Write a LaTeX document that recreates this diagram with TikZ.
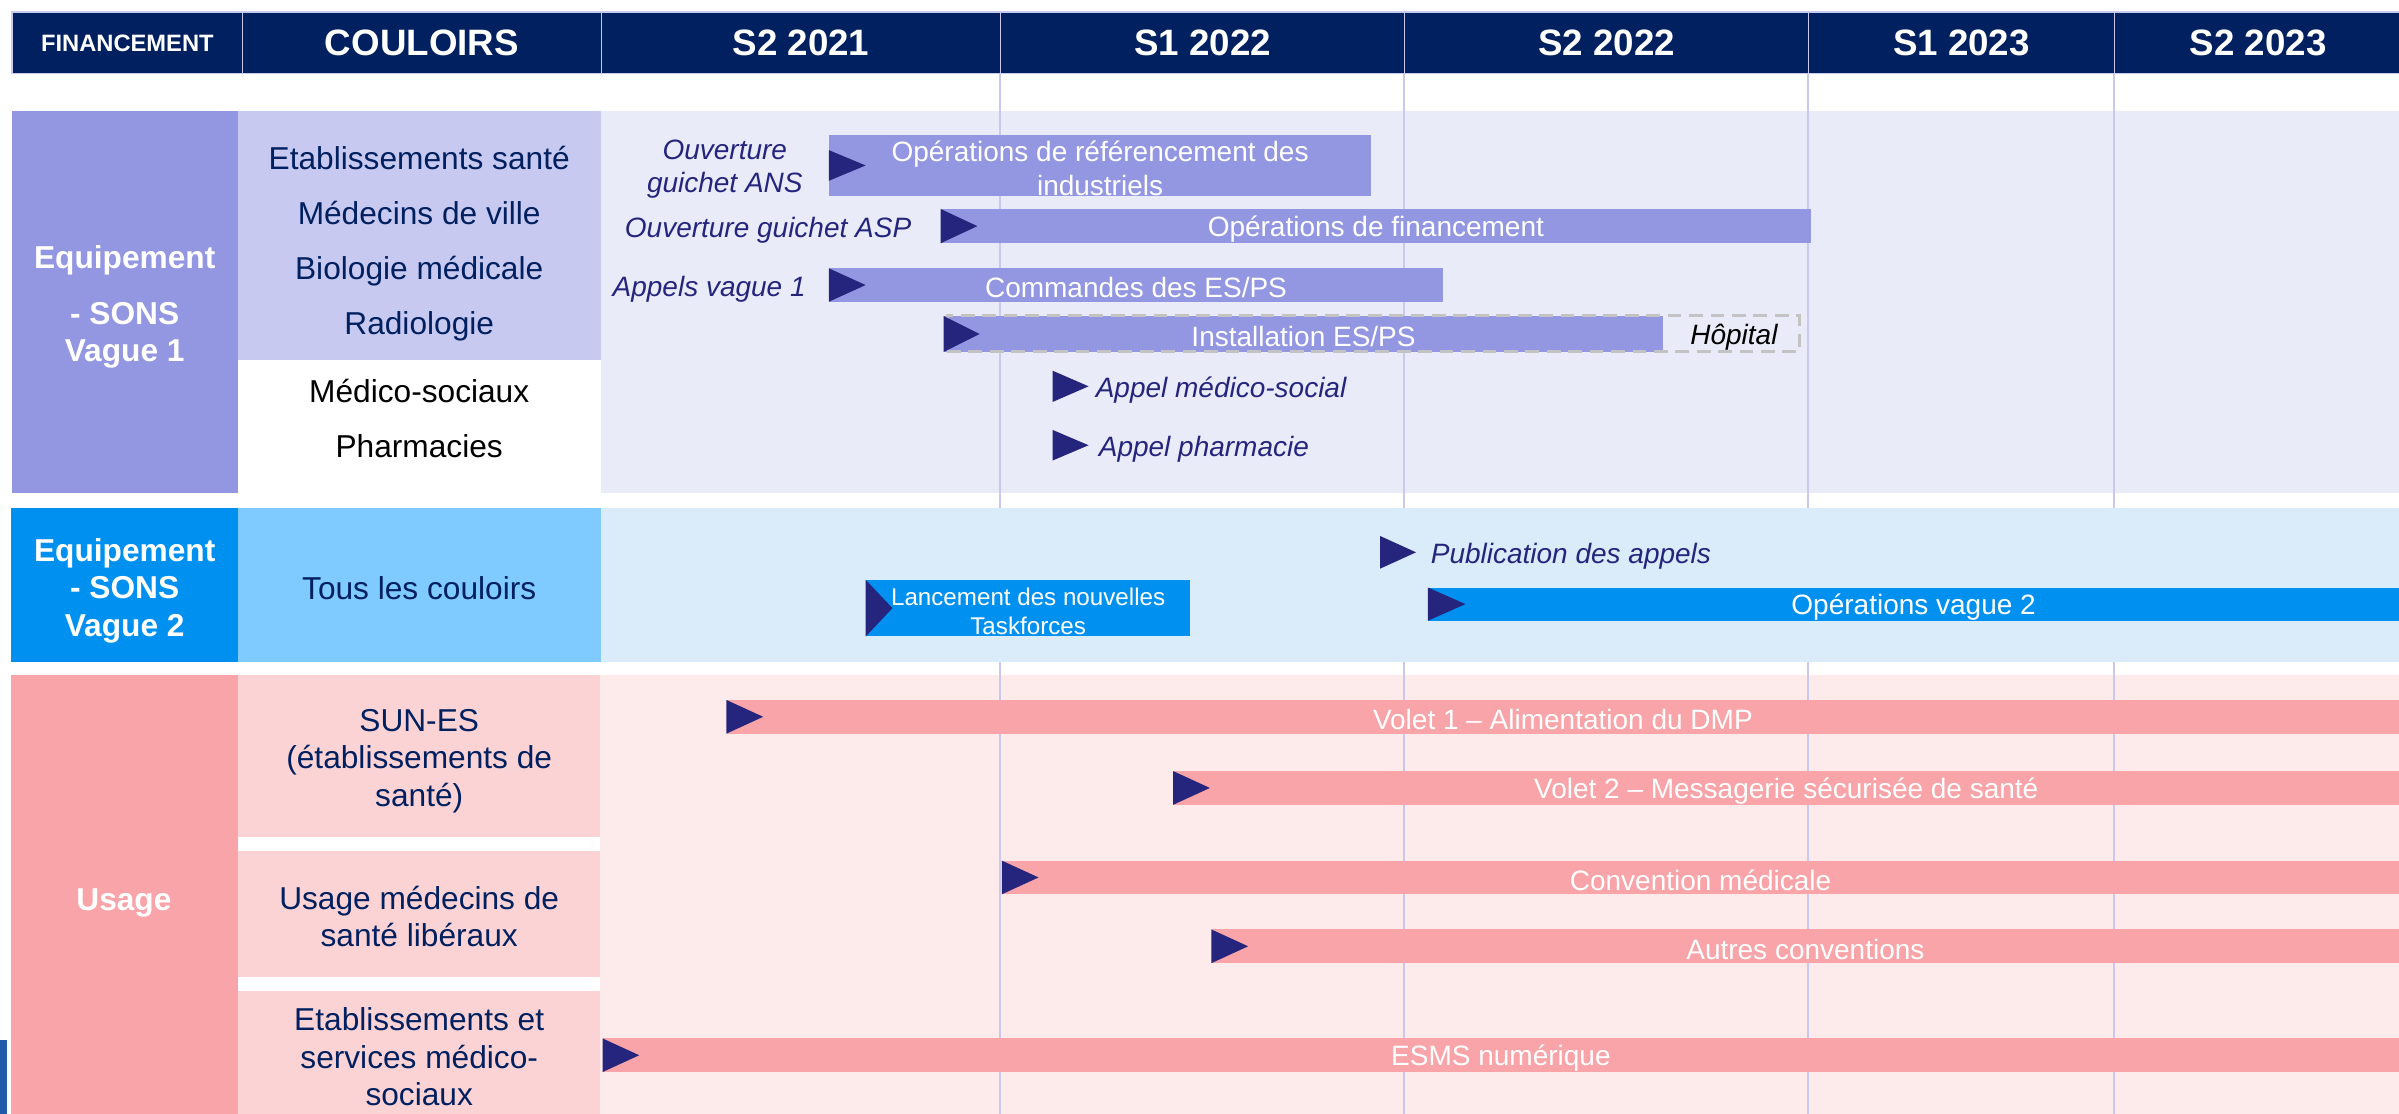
\documentclass[tikz,border=0pt]{standalone}
\usepackage{fontspec}
\setmainfont{Liberation Sans}
\usetikzlibrary{positioning,fit}

\definecolor{navy}{HTML}{002060}
\definecolor{flagblue}{HTML}{25257D}
\definecolor{gridc}{HTML}{C9C9F0}
\definecolor{dashgray}{HTML}{C3C3C3}
\definecolor{edgeblue}{HTML}{1F5AA8}
\definecolor{vaLeft}{HTML}{9396E0}
\definecolor{vaCou}{HTML}{C8C9F0}
\definecolor{vaBg}{HTML}{EAEBF8}
\definecolor{vbLeft}{HTML}{0091F0}
\definecolor{vbCou}{HTML}{7FCAFE}
\definecolor{vbBg}{HTML}{DAEBFA}
\definecolor{usLeft}{HTML}{F8A4A8}
\definecolor{usCou}{HTML}{FBD3D5}
\definecolor{usBg}{HTML}{FDEBEB}

\newcommand{\myBox}[3]{
\node[fit={#2}, inner sep=0pt, #3] (#1) {};
}
\newcommand{\myText}[3]{
\node[#2] (#1-t) at (#1) {#3};
}
\newcommand{\myFlag}[3]{
% triangle on the left end of a bar
\fill[flagblue] ([yshift=#3]#1.west) -- ([xshift=#2]#1.west) -- ([yshift=-#3]#1.west) -- cycle;
}
\newcommand{\myMilestone}[3]{
\coordinate (#1) at #2;
\fill[flagblue] (#1) ++(0,-#3) -- ++(23.5,#3) -- ++(-23.5,#3) -- cycle;
}

\begin{document}
\begin{tikzpicture}[x=1pt, y=-1pt,
	hdr/.style={fill=navy, draw=gridc, line width=1pt},
	hdrtxt/.style={text=white, font=\fontsize{24}{28}\selectfont\bfseries},
	lead/.style={text=white, align=center, font=\fontsize{20.7}{24.5}\selectfont\bfseries},
	cou/.style={text=navy, align=center, font=\fontsize{20.7}{36}\selectfont},
	couS/.style={text=navy, align=center, font=\fontsize{20.7}{24.5}\selectfont},
	bar/.style={text=white, align=center, yshift=-1.8pt, font=\fontsize{18.3}{22}\selectfont},
	lbl/.style={text=flagblue, align=center, inner sep=0pt, yshift=-2.5pt, font=\fontsize{18.3}{22}\selectfont\itshape},
	gridline/.style={draw=gridc, line width=1.3pt},
	hospbox/.style={draw=dashgray, line width=2pt, dash pattern=on 9pt off 5pt}]
	\clip (0,0) rectangle (1568,728);
	\fill[white] (0,0) rectangle (1568,728);
	\fill[edgeblue] (0,680) rectangle (4.5,728);

	% header
	\myBox{hFin}{(8,8) (158.5,48)}{hdr}
	\myText{hFin}{hdrtxt, font=\fontsize{15.5}{18}\selectfont\bfseries}{FINANCEMENT}
	\myBox{hCou}{(158.5,8) (393,48)}{hdr}
	\myText{hCou}{hdrtxt}{COULOIRS}
	\foreach \xa/\xb/\txt [count=\i] in {393/654/S2 2021, 654/918/S1 2022, 918/1182/S2 2022, 1182/1382/S1 2023, 1382/1570/S2 2023}{
		\myBox{hS\i}{(\xa,8) (\xb,48)}{hdr}
		\myText{hS\i}{hdrtxt}{\txt}
	}

	% Equipement vague 1 and Usage
	\myBox{aLead}{(8,72.5) (155.5,322.5)}{fill=vaLeft}
	\myBox{aCou}{(155.5,72.5) (392.5,235.3)}{fill=vaCou}
	\myBox{aBg}{(392.5,72.5) (1570,322.5)}{fill=vaBg}
	\myBox{cLead}{(7,441) (155.5,740)}{fill=usLeft}
	\myBox{cCouA}{(155.5,441.5) (392,547)}{fill=usCou}
	\myBox{cCouB}{(155.5,556.5) (392,638.5)}{fill=usCou}
	\myBox{cCouC}{(155.5,648) (392,740)}{fill=usCou}
	\myBox{cBg}{(392,441) (1570,740)}{fill=usBg}

	\foreach \i in {2,...,5}
		\draw[gridline] (hS\i.south west) -- ++(0,690);

	% Equipement vague 2
	\myBox{bLead}{(7,332) (155.5,432.5)}{fill=vbLeft}
	\myBox{bCou}{(155.5,332) (392.5,432.5)}{fill=vbCou}
	\myBox{bBg}{(392.5,332) (1570,432.5)}{fill=vbBg}

	\node[lead] (aLeadTxt) at (81.5,200.5) {Equipement\\[12pt]- SONS\\Vague 1};
	\node[cou] (aCouTxt) at (274,159.4) {Etablissements santé\\Médecins de ville\\Biologie médicale\\Radiologie};
	\node[cou, text=black] (aCouTxtB) at (274,273.4) {Médico-sociaux\\Pharmacies};
	\node[lead] (bLeadTxt) at (81.5,386) {Equipement\\- SONS\\Vague 2};
	\node[couS] (bCouTxt) at (274,384.5) {Tous les couloirs};
	\node[lead] (cLeadTxt) at (81,590) {Usage};
	\node[couS] (cCouTxtA) at (274,497.5) {SUN-ES\\(établissements de\\santé)};
	\node[couS] (cCouTxtB) at (274,599) {Usage médecins de\\santé libéraux};
	\node[couS] (cCouTxtC) at (274,690.8) {Etablissements et\\services médico-\\sociaux};

	% bars vague 1
	\myBox{barRef}{(542,88.3) (896,128)}{fill=vaLeft}
	\myText{barRef}{bar}{Opérations de référencement des\\industriels}
	\myFlag{barRef}{24pt}{10pt}
	\node[lbl, left=17pt of barRef] (lblRef) {Ouverture\\guichet ANS};
	\myBox{barFin}{(615,136.6) (1183.5,159)}{fill=vaLeft}
	\myText{barFin}{bar}{Opérations de financement}
	\myFlag{barFin}{24pt}{11.2pt}
	\node[lbl, left=19pt of barFin] (lblFin) {Ouverture guichet ASP};
	\myBox{barCmd}{(542,175.4) (943,197.2)}{fill=vaLeft}
	\myText{barCmd}{bar}{Commandes des ES/PS}
	\myFlag{barCmd}{24pt}{10.9pt}
	\node[lbl, left=15pt of barCmd] (lblCmd) {Appels vague 1};
	\myBox{barInst}{(617,206.6) (1087,230)}{fill=vaLeft}
	\myText{barInst}{bar}{Installation ES/PS}
	\myBox{hosp}{(619,206) (1176,230)}{hospbox}
	\myFlag{barInst}{23.5pt}{11.7pt}
	\node[lbl, text=black, left=15pt of hosp.east] (lblHosp) {Hôpital};

	\myMilestone{mMed}{(688,252.5)}{10.2}
	\node[lbl, right=28pt of mMed] (lblMed) {Appel médico-social};
	\myMilestone{mPha}{(688,291)}{10}
	\node[lbl, right=30pt of mPha] (lblPha) {Appel pharmacie};

	% bars vague 2
	\myMilestone{mPub}{(902,361)}{10.7}
	\node[lbl, right=33pt of mPub] (lblPub) {Publication des appels};
	\myBox{barTask}{(566,379) (778,416)}{fill=vbLeft}
	\myText{barTask}{bar, font=\fontsize{15.8}{19}\selectfont}{Lancement des nouvelles\\Taskforces}
	\myFlag{barTask}{17.5pt}{18.5pt}
	\myBox{barOp}{(933.5,384) (1568,405.7)}{fill=vbLeft}
	\myText{barOp}{bar}{Opérations vague 2}
	\myFlag{barOp}{24.5pt}{10.85pt}

	% bars usage
	\foreach \nm/\xa/\ya/\txt in {barVa/475/457.5/Volet 1 – Alimentation du DMP, barVb/767/504/Volet 2 – Messagerie sécurisée de santé, barConv/655/562.5/Convention médicale, barAut/792/607.5/Autres conventions, barEsms/394/678.7/ESMS numérique}{
		\myBox{\nm}{(\xa,\ya) (1568,\ya+22)}{fill=usLeft}
		\myText{\nm}{bar}{\txt}
		\myFlag{\nm}{24pt}{11pt}
	}
\end{tikzpicture}
\end{document}
